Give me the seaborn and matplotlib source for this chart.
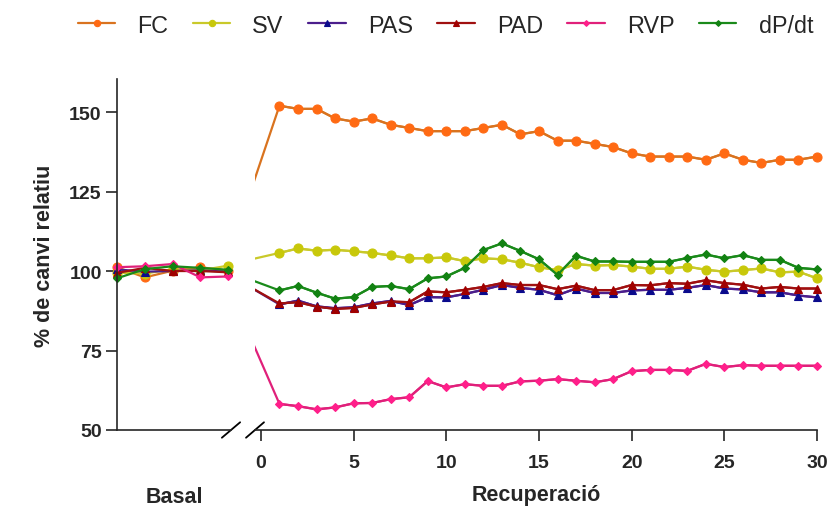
import pandas as pd
import matplotlib
matplotlib.use("Agg")
import matplotlib.pyplot as plt
import seaborn as sns

# ---- Data
SERIES = ["FC", "SV", "PAS", "PAD", "RVP", "dP/dt"]
basal_t = [-6, -5, -4, -3, -2]
recov_t = list(range(1, 31))

fc_basal = [101.2, 98.0, 100.1, 101.2, 100.1]
sv_basal = [99.5, 99.2, 100.6, 100.2, 101.7]
pas_basal = [100.5, 99.8, 100.0, 100.2, 99.8]
pad_basal = [99.4, 101.0, 100.0, 100.0, 99.6]
rvp_basal = [101.2, 101.5, 102.2, 98.0, 98.3]
dpdt_basal = [97.7, 100.6, 101.5, 101.0, 100.4]

fc_recov = [152, 151, 151, 148, 147, 148, 146, 145, 144, 144,
            144, 145, 146, 143, 144, 141, 141, 140, 139, 137,
            136, 136, 136, 135, 137, 135, 134, 135, 135, 136]
sv_recov = [105.7, 107.1, 106.4, 106.7, 106.2, 105.7, 104.9, 104.0, 104.0, 104.3,
            103.1, 104.0, 103.7, 102.6, 101.2, 100.3, 102.2, 101.7, 101.9, 101.4,
            100.7, 100.7, 101.4, 100.4, 99.8, 100.3, 100.8, 99.6, 99.8, 97.7]
pas_recov = [89.5, 90.7, 88.9, 88.3, 88.6, 89.8, 90.6, 89.3, 91.8, 91.7,
             92.8, 94.1, 95.6, 94.7, 94.1, 92.4, 94.5, 93.1, 93.1, 93.9,
             94.1, 94.1, 94.7, 95.6, 94.5, 94.2, 93.3, 93.3, 92.3, 91.7]
pad_recov = [89.8, 90.2, 88.8, 88.1, 88.4, 89.5, 90.4, 90.2, 93.6, 93.3,
             94.1, 95.0, 96.2, 95.6, 95.6, 94.3, 95.4, 94.0, 94.0, 95.6,
             95.5, 96.2, 96.0, 97.1, 96.2, 95.7, 94.5, 95.0, 94.5, 94.5]
rvp_recov = [58.2, 57.5, 56.5, 57.1, 58.4, 58.5, 59.7, 60.3, 65.4, 63.4,
             64.4, 63.9, 63.9, 65.3, 65.5, 66.0, 65.5, 65.0, 66.0, 68.5,
             68.9, 68.9, 68.6, 70.8, 69.8, 70.4, 70.2, 70.2, 70.2, 70.2]
dpdt_recov = [93.9, 95.3, 93.2, 91.3, 91.8, 95.0, 95.3, 94.3, 97.7, 98.3,
              101.0, 106.6, 108.7, 106.3, 103.7, 98.8, 104.8, 103.0, 103.0, 102.9,
              102.9, 102.9, 104.1, 105.2, 104.0, 105.0, 103.5, 103.5, 101.0, 100.5]

y_ticks = [50, 75, 100, 125, 150]
x_ticks = [0, 5, 10, 15, 20, 25, 30]

# ---- Style
line_colors = {"FC": "#D9731F", "SV": "#C9C92A", "PAS": "#4B1E8C",
               "PAD": "#A01010", "RVP": "#E0207A", "dP/dt": "#1A8A1A"}
marker_colors = {"FC": "#FF6A13", "SV": "#C8C80A", "PAS": "#0A0A8C",
                 "PAD": "#A00000", "RVP": "#FF1F8A", "dP/dt": "#128212"}
markers = {"FC": "o", "SV": "o", "PAS": "^", "PAD": "^", "RVP": "D", "dP/dt": "D"}
marker_sizes = {"FC": 6.5, "SV": 6.5, "PAS": 6, "PAD": 6, "RVP": 4.2, "dP/dt": 4.2}

sns.set_style("ticks")
plt.rcParams["font.family"] = ["Liberation Sans", "DejaVu Sans"]

basal_vals = [fc_basal, sv_basal, pas_basal, pad_basal, rvp_basal, dpdt_basal]
recov_vals = [fc_recov, sv_recov, pas_recov, pad_recov, rvp_recov, dpdt_recov]

rows = []
for name, b, r in zip(SERIES, basal_vals, recov_vals):
    for t, v in zip(basal_t, b):
        rows.append({"t": t, "valor": v, "serie": name, "fase": "basal"})
    for t, v in zip(recov_t, r):
        rows.append({"t": t, "valor": v, "serie": name, "fase": "recov"})
df = pd.DataFrame(rows)
df_basal = df[df["fase"] == "basal"]
df_recov = df[df["fase"] == "recov"]

fig = plt.figure(figsize=(8.28, 5.10), dpi=100)
ax_l = fig.add_axes([117 / 828, 79 / 510, 114 / 828, 351 / 510])
ax_r = fig.add_axes([255 / 828, 79 / 510, 562 / 828, 351 / 510])

line_kw = dict(hue="serie", style="serie", hue_order=SERIES, style_order=SERIES,
               palette=line_colors, markers=markers, dashes=False,
               linewidth=1.6, markersize=6.5, markeredgewidth=0.8)

# left panel: basal points only
sns.lineplot(data=df_basal, x="t", y="valor", ax=ax_l, legend=False,
             clip_on=False, **line_kw)

# right panel: connecting segment (clipped) then recovery with markers
sns.lineplot(data=df, x="t", y="valor", hue="serie", hue_order=SERIES,
             palette=line_colors, linewidth=1.6, ax=ax_r, legend=False)
sns.lineplot(data=df_recov, x="t", y="valor", ax=ax_r, clip_on=False, **line_kw)

col2name = {matplotlib.colors.to_hex(c): n for n, c in line_colors.items()}

def recolor(lines, scale=1.0):
    for ln in lines:
        name = col2name.get(matplotlib.colors.to_hex(ln.get_color()))
        if name is not None and ln.get_marker() not in (None, "None", ""):
            ln.set_markerfacecolor(marker_colors[name])
            ln.set_markeredgecolor(marker_colors[name])
            ln.set_markersize(marker_sizes[name] * scale)

recolor(ax_l.lines)
recolor(ax_r.lines)

handles, labels = ax_r.get_legend_handles_labels()
ax_r.legend_.remove()
for h in handles:
    h.set_linewidth(1.6)
recolor(handles, scale=0.7)
fig.legend(handles, labels, loc="center", bbox_to_anchor=(0.538, 0.949),
           ncol=6, frameon=False, fontsize=16.8, handlelength=1.6,
           handletextpad=0.95, columnspacing=1.05)

# axes limits / ticks
for ax in (ax_l, ax_r):
    ax.set_ylim(50, 160.4)
    for s in ("top", "right"):
        ax.spines[s].set_visible(False)
    ax.spines["bottom"].set_linewidth(1.2)
    ax.spines["left"].set_linewidth(1.2)
    ax.set_ylabel("")

ax_l.set_xlim(-6, -1.9)
ax_l.set_xticks([])
ax_l.set_yticks(y_ticks)
ax_l.tick_params(axis="y", length=8, width=1.2, labelsize=14, pad=3)
for t in ax_l.get_yticklabels():
    t.set_fontweight("bold")
ax_l.set_ylabel("% de canvi relatiu", fontsize=15.5, fontweight="bold", labelpad=10)
ax_l.set_xlabel("Basal", fontsize=15.5, fontweight="bold", labelpad=40)

ax_r.set_xlim(-0.32, 30)
ax_r.set_xticks(x_ticks)
ax_r.spines["left"].set_visible(False)
ax_r.set_yticks([])
ax_r.tick_params(axis="x", length=8, width=1.2, labelsize=14, pad=9)
for t in ax_r.get_xticklabels():
    t.set_fontweight("bold")
ax_r.set_xlabel("Recuperació", fontsize=15.5, fontweight="bold", labelpad=10)

# break marks on the x axis
ax_l.plot([0.92, 1.08], [-0.022, 0.022], transform=ax_l.transAxes,
          color="black", lw=1.3, clip_on=False)
ax_r.plot([-0.016, 0.016], [-0.022, 0.022], transform=ax_r.transAxes,
          color="black", lw=1.3, clip_on=False)

fig.savefig("out.png", dpi=100)
